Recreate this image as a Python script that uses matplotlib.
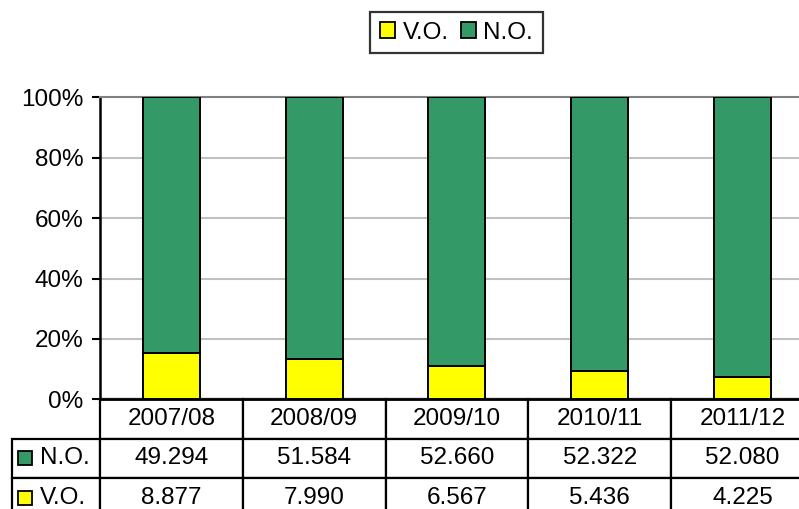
import numpy as np
import matplotlib.pyplot as plt
from matplotlib.table import Table
from matplotlib.patches import Rectangle, Patch

plt.rcParams["font.family"] = ["Liberation Sans", "DejaVu Sans"]

# data
years = ["2007/08", "2008/09", "2009/10", "2010/11", "2011/12"]
no_vals = [49294, 51584, 52660, 52322, 52080]   # N.O.
vo_vals = [8877, 7990, 6567, 5436, 4225]         # V.O.

GREEN = "#339966"
YELLOW = "#FFFF00"
FS = 17.5

no = np.array(no_vals, dtype=float)
vo = np.array(vo_vals, dtype=float)
tot = no + vo
vo_pct = vo / tot * 100
no_pct = no / tot * 100

def fmt(v):
    return f"{v:,}".replace(",", ".")

fig = plt.figure(figsize=(7.99, 5.09), dpi=100)
W, H = 799, 509
# plot area in pixels
px_left, px_right, px_top, px_bot = 100, 813.75, 97.3, 399.3
ax = fig.add_axes([px_left / W, 1 - px_bot / H, (px_right - px_left) / W, (px_bot - px_top) / H])

x = np.arange(len(years))
ax.bar(x, vo_pct, width=0.4, color=YELLOW, edgecolor="black", linewidth=1.4, label="V.O.", zorder=3)
ax.bar(x, no_pct, width=0.4, bottom=vo_pct, color=GREEN, edgecolor="black", linewidth=1.4, label="N.O.", zorder=3)

ax.set_xlim(-0.5, len(years) - 0.5)
ax.set_ylim(0, 100)
ax.set_yticks(np.arange(0, 101, 20))
ax.set_yticklabels([f"{t}%" for t in range(0, 101, 20)], fontsize=FS)
ax.set_xticks([])
ax.yaxis.grid(True, color="#c0c0c0", linewidth=1.5, zorder=0)
ax.set_axisbelow(True)
ax.tick_params(axis="y", length=6, width=1.5, pad=6)
ax.spines["right"].set_visible(False)
ax.spines["top"].set_color("#808080")
ax.spines["top"].set_linewidth(1.5)
ax.spines["left"].set_linewidth(1.8)
ax.spines["bottom"].set_linewidth(2)

# data table under the plot
ax_w = px_right - px_left
ax_h = px_bot - px_top
row_h = 39.3 / ax_h
lab_w = 88 / ax_w
col_w = 1.0 / len(years)
tb = Table(ax, bbox=[-lab_w, -3 * row_h, 1 + lab_w, 3 * row_h])
for j, yr in enumerate(years):
    tb.add_cell(0, j + 1, col_w, row_h, text=yr, loc="center")
rows = [("N.O.", no_vals, GREEN), ("V.O.", vo_vals, YELLOW)]
for i, (name, vals, col) in enumerate(rows):
    tb.add_cell(i + 1, 0, lab_w, row_h, text="", loc="left")
    for j, v in enumerate(vals):
        tb.add_cell(i + 1, j + 1, col_w, row_h, text=fmt(v), loc="center")
tb.auto_set_font_size(False)
tb.set_fontsize(FS)
for cell in tb.get_celld().values():
    cell.set_linewidth(1.6)
    cell.set_edgecolor("black")
ax.add_table(tb)

# keys in the row labels
for i, (name, vals, col) in enumerate(rows):
    yc = -(i + 1.5) * row_h
    sq_w = 14 / ax_w
    sq_h = 14 / ax_h
    ax.add_patch(Rectangle((-lab_w + 6 / ax_w, yc - sq_h / 2), sq_w, sq_h, transform=ax.transAxes,
                           facecolor=col, edgecolor="black", linewidth=1.3, clip_on=False))
    ax.text(-lab_w + 28 / ax_w, yc, name, transform=ax.transAxes, fontsize=FS, va="center", ha="left")

# legend on top
handles = [Patch(facecolor=YELLOW, edgecolor="black", linewidth=1.3, label="V.O."),
           Patch(facecolor=GREEN, edgecolor="black", linewidth=1.3, label="N.O.")]
leg = fig.legend(handles=handles, loc="upper center", bbox_to_anchor=(456.5 / W, 1 - 12 / H),
                 ncol=2, fontsize=FS, frameon=True, fancybox=False, borderaxespad=0,
                 handlelength=0.62, handleheight=0.62, handletextpad=0.3, columnspacing=0.5,
                 borderpad=0.4)
leg.get_frame().set_edgecolor("black")
leg.get_frame().set_linewidth(1.6)

fig.savefig("out.png", dpi=100)
